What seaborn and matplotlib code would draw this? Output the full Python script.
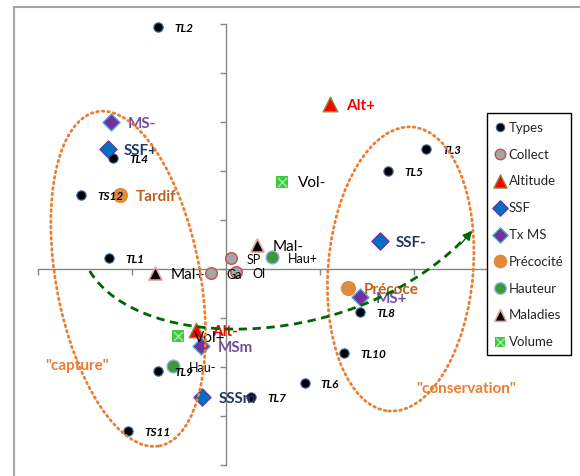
import numpy as np
import pandas as pd
import matplotlib.pyplot as plt
import seaborn as sns
from matplotlib.patches import Ellipse, PathPatch, Rectangle
from matplotlib.path import Path
from matplotlib.transforms import ScaledTranslation
from matplotlib.legend_handler import HandlerTuple

sns.set_style("white")
plt.rcParams['font.family'] = ['Lato', 'DejaVu Sans']

# ---- coordinates (axis units) ----
type_names = ["TL1", "TL2", "TL3", "TL4", "TL5", "TL6", "TL7", "TL8", "TL9", "TL10", "TS11", "TS12"]
type_x = [-1.24, -0.72, 2.13, -1.20, 1.73, 0.84, 0.27, 1.43, -0.72, 1.26, -1.04, -1.54]
type_y = [0.22, 4.94, 2.45, 2.27, 2.00, -2.33, -2.61, -0.88, -2.08, -1.71, -3.31, 1.51]

collect_names = ["SP", "Ga", "Ol"]
collect_x = [0.05, -0.16, 0.11]
collect_y = [0.22, -0.08, -0.06]

alt_names = ["Alt+", "Alt-"]
alt_x = [1.11, -0.32]
alt_y = [3.37, -1.25]

ssf_names = ["SSF+", "SSF-", "SSSm"]
ssf_x = [-1.26, 1.64, -0.25]
ssf_y = [2.45, 0.57, -2.61]

ms_names = ["MS-", "MS+", "MSm"]
ms_x = [-1.22, 1.43, -0.26]
ms_y = [3.00, -0.57, -1.57]

prec_names = ["Tardif", "Précoce"]
prec_x = [-1.13, 1.30]
prec_y = [1.51, -0.39]

hau_names = ["Hau+", "Hau-"]
hau_x = [0.49, -0.56]
hau_y = [0.24, -1.98]

mal_names = ["Mal-", "Mal+"]
mal_x = [0.33, -0.76]
mal_y = [0.49, -0.08]

vol_names = ["Vol-", "Vol+"]
vol_x = [0.60, -0.51]
vol_y = [1.78, -1.37]

# trajectory arrow (bezier control points)
curve_x = [-1.45, -0.92, 1.43, 2.62]
curve_y = [-0.04, -1.74, -1.74, 0.78]

fig = plt.figure(figsize=(5.8, 4.77), dpi=100)
ax = fig.add_axes([38 / 580, 11 / 477, 451 / 580, 441 / 477])
ax.set_xlim(-2, 2.8)
ax.set_ylim(-4, 5)

# outer chart-area frame (cut at the right / bottom like the screenshot)
fig.patches.append(Rectangle((14 / 580, -0.1), 1.2, 1.1 - 8 / 477, transform=fig.transFigure,
                             fill=False, edgecolor='#A6A6A6', lw=1.5))

groups = [
    ("Types", type_names, type_x, type_y, dict(marker='o', s=45, color='black', edgecolor='#3C6EA8', linewidth=0.8)),
    ("Collect", collect_names, collect_x, collect_y, dict(marker='o', s=70, color='#A6A6A6', edgecolor='#C0504D', linewidth=1)),
    ("Altitude", alt_names, alt_x, alt_y, dict(marker='^', s=110, color='#FF0000', edgecolor='#8A8A3A', linewidth=1)),
    ("SSF", ssf_names, ssf_x, ssf_y, dict(marker='D', s=75, color='#0070C0', edgecolor='#7030A0', linewidth=1)),
    ("Tx MS", ms_names, ms_x, ms_y, dict(marker='D', s=75, color='#7030A0', edgecolor='#4BACC6', linewidth=1)),
    ("Précocité", prec_names, prec_x, prec_y, dict(marker='o', s=120, color='#E08A3E', edgecolor='#E08A3E', linewidth=0)),
    ("Hauteur", hau_names, hau_x, hau_y, dict(marker='o', s=85, color='#3A9A3A', edgecolor='#8EB4E3', linewidth=1)),
    ("Maladies", mal_names, mal_x, mal_y, dict(marker='^', s=90, color='black', edgecolor='#E6A8A8', linewidth=1.2)),
    ("Volume", vol_names, vol_x, vol_y, dict(marker='s', s=70, color='#3BCB3B', edgecolor='#3BCB3B', linewidth=0)),
]

text_styles = {
    "Types": dict(fontsize=8.5, fontweight='bold', fontstyle='italic', color='black'),
    "Collect": dict(fontsize=9, color='black'),
    "Altitude": dict(fontsize=11, fontweight='bold', color='#FF0000'),
    "SSF": dict(fontsize=11, fontweight='bold', color='#1F3864'),
    "Tx MS": dict(fontsize=11, fontweight='bold', color='#6F4E9C'),
    "Précocité": dict(fontsize=11, fontweight='bold', color='#C0601A'),
    "Hauteur": dict(fontsize=9, color='black'),
    "Maladies": dict(fontsize=11, color='black'),
    "Volume": dict(fontsize=11, color='black'),
}

handles = []
for name, labels, xs, ys, style in groups:
    df = pd.DataFrame({"x": xs, "y": ys, "label": labels})
    sns.scatterplot(data=df, x="x", y="y", ax=ax, zorder=3, clip_on=False, legend=False, **style)
    h = ax.collections[-1]
    if name == "Volume":
        sns.scatterplot(data=df, x="x", y="y", ax=ax, zorder=3.1, marker='x', s=45,
                        color='#A8EBA8', linewidth=1, legend=False)
        h = (h, ax.collections[-1])
    handles.append(h)
    for lab, x, y in zip(labels, xs, ys):
        ax.annotate(lab, (x, y), xytext=(11.5, -0.5), textcoords='offset points',
                    ha='left', va='center', zorder=4, **text_styles[name])

# dotted ellipses (size in inches, centre in data)
for cx, cy, w, h, ang in [(-1.04, -0.20, 1.44, 3.40, 10.6), (1.86, 0.0, 1.45, 2.85, -4.8)]:
    ell = Ellipse((0, 0), w, h, angle=ang, fill=False, edgecolor='#ED7D31', lw=2,
                  linestyle=(0, (0.6, 1.4)), capstyle='round',
                  transform=fig.dpi_scale_trans + ScaledTranslation(cx, cy, ax.transData), zorder=5)
    ax.add_patch(ell)

ax.text(-1.58, -1.95, '"capture"', color='#ED7D31', fontsize=11, fontweight='bold', ha='center', va='center')
ax.text(2.56, -2.43, '"conservation"', color='#ED7D31', fontsize=11, fontweight='bold', ha='center', va='center')

# dashed trajectory arrow
verts = list(zip(curve_x, curve_y))
path = Path(verts, [Path.MOVETO, Path.CURVE4, Path.CURVE4, Path.CURVE4])
ax.add_patch(PathPatch(path, fill=False, edgecolor='#006400', lw=2, linestyle=(0, (3, 2)), zorder=5))
ax.annotate('', xy=(curve_x[3], curve_y[3]), xytext=(curve_x[3] - 0.12, curve_y[3] - 0.27),
            arrowprops=dict(arrowstyle='-|>', color='#006400', lw=1, mutation_scale=14,
                            shrinkA=0, shrinkB=0), zorder=5)

# axes crossing at the origin
for side in ['top', 'right']:
    ax.spines[side].set_visible(False)
for side in ['left', 'bottom']:
    ax.spines[side].set_position(('data', 0))
    ax.spines[side].set_color('#868686')
    ax.spines[side].set_linewidth(1)
ax.set_xticks(range(-2, 3))
ax.set_yticks(range(-4, 6))
ax.tick_params(left=True, bottom=True, labelleft=False, labelbottom=False,
               length=4, width=1, color='#868686', direction='out')
ax.set_xlabel('')
ax.set_ylabel('')

leg = ax.legend(handles, [g[0] for g in groups], loc='upper left',
                bbox_to_anchor=(487 / 580, 1 - 114 / 477), bbox_transform=fig.transFigure,
                frameon=True, fancybox=False, edgecolor='black', framealpha=1,
                fontsize=9.5, handlelength=0.8, handletextpad=0.25, labelspacing=1.12,
                borderpad=0.6, borderaxespad=0, markerscale=0.9,
                handler_map={tuple: HandlerTuple(ndivide=1, pad=0)})
leg.get_frame().set_linewidth(1)

fig.savefig('out.png', dpi=100)
